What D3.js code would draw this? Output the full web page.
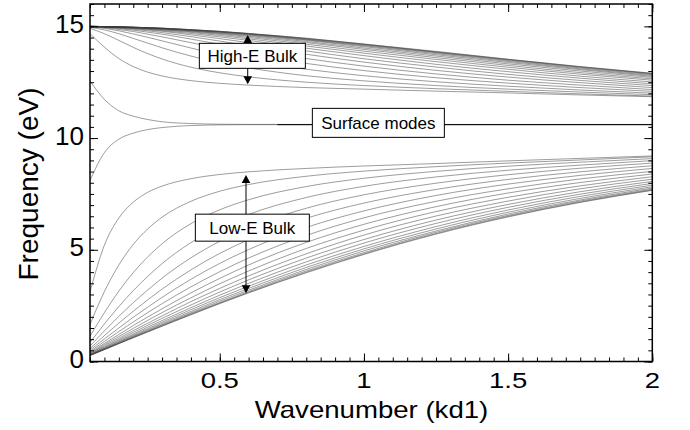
<!DOCTYPE html>
<html><head><meta charset="utf-8">
<script src="https://cdn.jsdelivr.net/npm/d3@7"></script>
<style>
body{margin:0;background:#fff}
svg{display:block}
text{font-family:"Liberation Sans",Arial,Helvetica,sans-serif;fill:#000}
</style>
</head><body>
<svg id="chart" width="690" height="430"></svg>
<script>
// Wavenumber sample points (kd1)
const kValues = [0.05, 0.1, 0.15, 0.2, 0.25, 0.3, 0.4, 0.5, 0.6, 0.8, 1.0, 1.25, 1.5, 1.75, 2.0];

// Low-energy bulk band (eV), one row per mode
const lowBand = [
  [3.12, 5.21, 6.42, 7.13, 7.57, 7.85, 8.18, 8.37, 8.49, 8.64, 8.75, 8.86, 8.98, 9.09, 9.20],
  [1.66, 3.13, 4.32, 5.24, 5.93, 6.46, 7.17, 7.62, 7.92, 8.29, 8.52, 8.72, 8.88, 9.02, 9.16],
  [1.13, 2.19, 3.15, 3.98, 4.68, 5.27, 6.17, 6.79, 7.24, 7.83, 8.20, 8.51, 8.74, 8.92, 9.08],
  [0.85, 1.68, 2.46, 3.17, 3.81, 4.38, 5.32, 6.03, 6.58, 7.34, 7.84, 8.26, 8.56, 8.79, 8.99],
  [0.69, 1.37, 2.02, 2.63, 3.20, 3.73, 4.64, 5.38, 5.98, 6.86, 7.46, 7.98, 8.36, 8.65, 8.88],
  [0.58, 1.16, 1.72, 2.25, 2.76, 3.24, 4.10, 4.84, 5.45, 6.41, 7.09, 7.70, 8.15, 8.49, 8.76],
  [0.51, 1.01, 1.50, 1.98, 2.43, 2.87, 3.68, 4.39, 5.01, 6.00, 6.74, 7.43, 7.94, 8.33, 8.64],
  [0.45, 0.90, 1.34, 1.77, 2.19, 2.59, 3.34, 4.02, 4.63, 5.64, 6.43, 7.17, 7.73, 8.17, 8.51],
  [0.41, 0.81, 1.21, 1.61, 1.99, 2.36, 3.07, 3.72, 4.32, 5.33, 6.14, 6.93, 7.54, 8.01, 8.39],
  [0.37, 0.75, 1.12, 1.48, 1.84, 2.19, 2.85, 3.48, 4.05, 5.06, 5.88, 6.71, 7.35, 7.86, 8.27],
  [0.35, 0.70, 1.04, 1.38, 1.71, 2.04, 2.68, 3.27, 3.83, 4.82, 5.66, 6.51, 7.18, 7.73, 8.16],
  [0.33, 0.65, 0.98, 1.30, 1.62, 1.93, 2.53, 3.11, 3.65, 4.63, 5.46, 6.33, 7.03, 7.60, 8.06],
  [0.31, 0.62, 0.93, 1.23, 1.54, 1.83, 2.41, 2.97, 3.50, 4.46, 5.30, 6.18, 6.90, 7.49, 7.97],
  [0.30, 0.59, 0.89, 1.18, 1.47, 1.76, 2.32, 2.86, 3.37, 4.32, 5.15, 6.04, 6.78, 7.39, 7.89],
  [0.29, 0.57, 0.86, 1.14, 1.42, 1.70, 2.24, 2.77, 3.27, 4.21, 5.04, 5.93, 6.68, 7.30, 7.82],
  [0.28, 0.56, 0.83, 1.11, 1.38, 1.65, 2.18, 2.70, 3.19, 4.12, 4.95, 5.84, 6.60, 7.23, 7.76],
  [0.27, 0.54, 0.82, 1.09, 1.35, 1.62, 2.14, 2.64, 3.13, 4.05, 4.87, 5.78, 6.54, 7.18, 7.71],
  [0.27, 0.54, 0.80, 1.07, 1.33, 1.59, 2.11, 2.61, 3.09, 4.00, 4.82, 5.73, 6.50, 7.14, 7.68],
  [0.27, 0.53, 0.80, 1.06, 1.32, 1.58, 2.09, 2.59, 3.07, 3.97, 4.79, 5.70, 6.47, 7.12, 7.66]
];

// High-energy bulk band (eV), one row per mode
const highBand = [
  [14.67, 14.07, 13.56, 13.20, 12.95, 12.78, 12.57, 12.45, 12.37, 12.26, 12.19, 12.10, 12.02, 11.93, 11.85],
  [14.91, 14.67, 14.37, 14.06, 13.78, 13.54, 13.17, 12.92, 12.74, 12.50, 12.35, 12.21, 12.09, 11.98, 11.88],
  [14.96, 14.84, 14.67, 14.46, 14.25, 14.04, 13.67, 13.37, 13.14, 12.79, 12.56, 12.35, 12.19, 12.06, 11.94],
  [14.98, 14.91, 14.80, 14.66, 14.51, 14.35, 14.03, 13.73, 13.48, 13.08, 12.79, 12.52, 12.32, 12.15, 12.01],
  [14.98, 14.94, 14.86, 14.77, 14.65, 14.53, 14.27, 14.00, 13.76, 13.34, 13.02, 12.70, 12.46, 12.26, 12.09],
  [14.99, 14.96, 14.90, 14.83, 14.74, 14.65, 14.43, 14.20, 13.97, 13.56, 13.22, 12.87, 12.59, 12.37, 12.17],
  [14.99, 14.97, 14.93, 14.87, 14.80, 14.72, 14.54, 14.34, 14.14, 13.75, 13.40, 13.03, 12.73, 12.48, 12.26],
  [14.99, 14.97, 14.94, 14.90, 14.84, 14.78, 14.62, 14.45, 14.27, 13.90, 13.55, 13.18, 12.85, 12.58, 12.35],
  [14.99, 14.98, 14.95, 14.91, 14.87, 14.81, 14.68, 14.53, 14.37, 14.02, 13.69, 13.30, 12.97, 12.68, 12.43],
  [15.00, 14.98, 14.96, 14.93, 14.89, 14.84, 14.73, 14.59, 14.44, 14.12, 13.80, 13.42, 13.08, 12.77, 12.51],
  [15.00, 14.98, 14.96, 14.94, 14.90, 14.86, 14.76, 14.64, 14.50, 14.20, 13.89, 13.52, 13.17, 12.86, 12.59],
  [15.00, 14.99, 14.97, 14.94, 14.91, 14.88, 14.79, 14.68, 14.55, 14.27, 13.97, 13.60, 13.25, 12.93, 12.65],
  [15.00, 14.99, 14.97, 14.95, 14.92, 14.89, 14.80, 14.70, 14.59, 14.32, 14.03, 13.67, 13.32, 13.00, 12.71],
  [15.00, 14.99, 14.97, 14.95, 14.93, 14.90, 14.82, 14.73, 14.62, 14.37, 14.09, 13.73, 13.38, 13.06, 12.76],
  [15.00, 14.99, 14.98, 14.96, 14.93, 14.90, 14.83, 14.74, 14.64, 14.40, 14.13, 13.78, 13.43, 13.10, 12.80],
  [15.00, 14.99, 14.98, 14.96, 14.94, 14.91, 14.84, 14.76, 14.66, 14.42, 14.16, 13.82, 13.47, 13.14, 12.84],
  [15.00, 14.99, 14.98, 14.96, 14.94, 14.91, 14.85, 14.77, 14.67, 14.44, 14.19, 13.84, 13.50, 13.17, 12.87],
  [15.00, 14.99, 14.98, 14.96, 14.94, 14.92, 14.85, 14.77, 14.68, 14.46, 14.20, 13.86, 13.52, 13.19, 12.89],
  [15.00, 14.99, 14.98, 14.96, 14.94, 14.92, 14.85, 14.78, 14.68, 14.47, 14.21, 13.88, 13.53, 13.20, 12.90]
];

// Surface modes (eV)
const surfaceLower = [8.10, 9.35, 9.95, 10.22, 10.38, 10.47, 10.56, 10.59, 10.60, 10.60, 10.60, 10.60, 10.60, 10.60, 10.60];
const surfaceUpper = [12.55, 11.73, 11.22, 10.98, 10.83, 10.73, 10.65, 10.62, 10.61, 10.61, 10.61, 10.61, 10.61, 10.61, 10.61];

// Tick labels
const xTickLabels = [0.5, 1, 1.5, 2];
const yTickLabels = [0, 5, 10, 15];

// Annotations
const surfaceLevel = 10.6;
const annotations = [
  {text: "High-E Bulk", k: 0.613, v: 13.68, w: 106, h: 25, arrowK: 0.597, up: 14.61, down: 12.41},
  {text: "Low-E Bulk", k: 0.613, v: 5.99, w: 114, h: 27, arrowK: 0.591, up: 8.35, down: 3.05},
  {text: "Surface modes", k: 1.05, v: 10.68, w: 132, h: 29}
];

const L = 90, R = 652.3, T = 4, B = 361.5;
const x = d3.scaleLinear().domain([0.05, 2]).range([L, R]);
const y = d3.scaleLinear().domain([0, 16]).range([B, T]);
const svg = d3.select("#chart");

svg.append("defs").append("clipPath").attr("id", "clip")
  .append("rect").attr("x", L).attr("y", T).attr("width", R - L).attr("height", B - T);

const line = d3.line()
  .x((d, i) => x(kValues[i]))
  .y(d => y(d))
  .curve(d3.curveMonotoneX);

const curves = svg.append("g").attr("clip-path", "url(#clip)")
  .attr("fill", "none").attr("stroke", "#3a3a3a").attr("stroke-width", 0.5);
curves.selectAll("path.low").data(lowBand).join("path").attr("class", "low").attr("d", line);
curves.selectAll("path.high").data(highBand).join("path").attr("class", "high").attr("d", line);
curves.selectAll("path.surf").data([surfaceLower, surfaceUpper]).join("path").attr("class", "surf").attr("d", line);

// surface-mode guide line
svg.append("line")
  .attr("x1", x(0.7)).attr("x2", x(2)).attr("y1", y(surfaceLevel)).attr("y2", y(surfaceLevel))
  .attr("stroke", "#000").attr("stroke-width", 1);

// axes ticks (inward on all four sides)
const xMinor = d3.range(0.05, 2.0001, 0.05);
const yMinor = d3.range(0, 16.0001, 0.5);
function styleAxis(g) {
  g.select(".domain").remove();
  g.selectAll(".tick line").attr("stroke", "#000").attr("stroke-width", 1);
  g.selectAll(".tick text").remove();
}
svg.append("g").attr("transform", `translate(0,${B})`).call(d3.axisBottom(x).tickValues(xMinor).tickSize(-4)).call(styleAxis);
svg.append("g").attr("transform", `translate(0,${B})`).call(d3.axisBottom(x).tickValues(xTickLabels).tickSize(-8)).call(styleAxis);
svg.append("g").attr("transform", `translate(0,${T})`).call(d3.axisTop(x).tickValues(xMinor).tickSize(-4)).call(styleAxis);
svg.append("g").attr("transform", `translate(0,${T})`).call(d3.axisTop(x).tickValues(xTickLabels).tickSize(-8)).call(styleAxis);
svg.append("g").attr("transform", `translate(${L},0)`).call(d3.axisLeft(y).tickValues(yMinor).tickSize(-4)).call(styleAxis);
svg.append("g").attr("transform", `translate(${L},0)`).call(d3.axisLeft(y).tickValues(yTickLabels).tickSize(-8)).call(styleAxis);
svg.append("g").attr("transform", `translate(${R},0)`).call(d3.axisRight(y).tickValues(yMinor).tickSize(-4)).call(styleAxis);
svg.append("g").attr("transform", `translate(${R},0)`).call(d3.axisRight(y).tickValues(yTickLabels).tickSize(-8)).call(styleAxis);

// frame
svg.append("rect").attr("x", L).attr("y", T).attr("width", R - L).attr("height", B - T)
  .attr("fill", "none").attr("stroke", "#000").attr("stroke-width", 1.5);

// tick labels
svg.selectAll("text.xl").data(xTickLabels).join("text").attr("class", "xl")
  .attr("transform", d => `translate(${x(d)},387.7) scale(1.25,1)`)
  .attr("text-anchor", "middle").attr("font-size", 22).text(d => d3.format("")(d));
svg.selectAll("text.yl").data(yTickLabels).join("text").attr("class", "yl")
  .attr("transform", d => `translate(84,${y(d) + 6.5})`)
  .attr("text-anchor", "end").attr("font-size", 26).text(d => d);

// axis titles
svg.append("text").attr("transform", "translate(371.5,418.3) scale(1.2,1)")
  .attr("text-anchor", "middle").attr("font-size", 23).text("Wavenumber (kd1)");
svg.append("text").attr("transform", "translate(38,184) rotate(-90)")
  .attr("text-anchor", "middle").attr("font-size", 28).text("Frequency (eV)");

// annotations
const ann = svg.append("g");
annotations.forEach(a => {
  const cx = x(a.k), cy = y(a.v);
  if (a.arrowK !== undefined) {
    const ax = x(a.arrowK);
    const topY = cy - a.h / 2, botY = cy + a.h / 2;
    const tipUp = y(a.up), tipDown = y(a.down);
    ann.append("line").attr("x1", ax).attr("x2", ax).attr("y1", topY).attr("y2", tipUp + 7)
      .attr("stroke", "#000").attr("stroke-width", 1);
    ann.append("line").attr("x1", ax).attr("x2", ax).attr("y1", botY).attr("y2", tipDown - 7)
      .attr("stroke", "#000").attr("stroke-width", 1);
    ann.append("path").attr("d", `M${ax},${tipUp} L${ax - 4.3},${tipUp + 8} L${ax + 4.3},${tipUp + 8} Z`).attr("fill", "#000");
    ann.append("path").attr("d", `M${ax},${tipDown} L${ax - 4.3},${tipDown - 8} L${ax + 4.3},${tipDown - 8} Z`).attr("fill", "#000");
  }
  ann.append("rect").attr("x", cx - a.w / 2).attr("y", cy - a.h / 2).attr("width", a.w).attr("height", a.h)
    .attr("fill", "#fff").attr("stroke", "#000").attr("stroke-width", 1);
  ann.append("text").attr("x", cx).attr("y", cy + 6).attr("text-anchor", "middle")
    .attr("font-size", 17).text(a.text);
});
</script>
</body></html>
